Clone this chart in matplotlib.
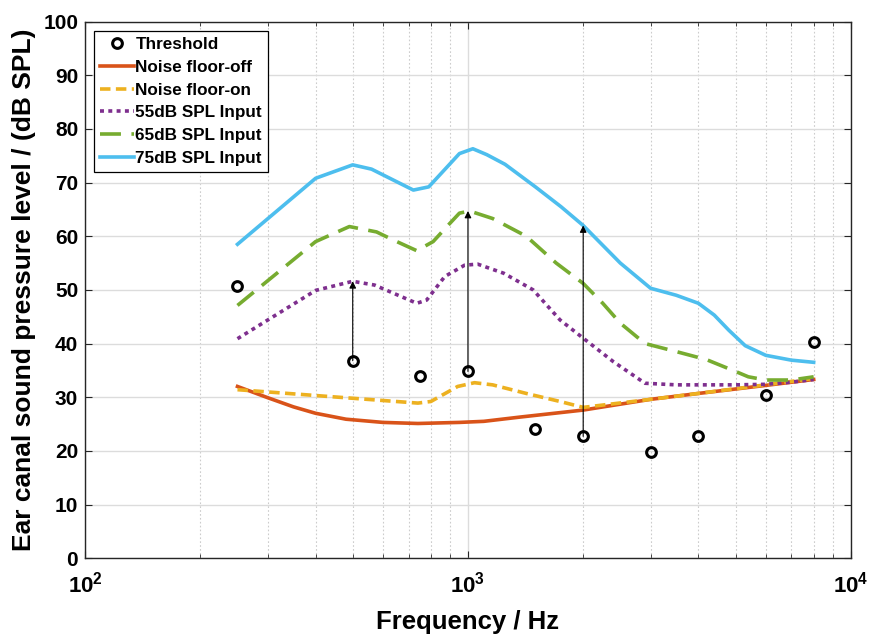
import math
import matplotlib
matplotlib.use("Agg")
import matplotlib.pyplot as plt
from matplotlib.ticker import FixedLocator, FuncFormatter, LogLocator, NullFormatter

# ---- data ----
thr_freq = [250, 500, 750, 1000, 1500, 2000, 3000, 4000, 6000, 8000]
thr_level = [50.8, 36.8, 34.0, 34.8, 24.0, 22.7, 19.8, 22.8, 30.4, 40.3]

off_freq = [250, 300, 350, 400, 480, 600, 740, 950, 1100, 1370, 2000, 3000, 4000, 6000, 8000]
off_level = [32.0, 29.9, 28.2, 27.0, 25.9, 25.3, 25.1, 25.3, 25.5, 26.3, 27.6, 29.6, 30.7, 32.2, 33.3]

on_freq = [250, 420, 570, 740, 800, 940, 1040, 1160, 1420, 1740, 2000, 3000, 4000, 6000, 8000]
on_level = [31.4, 30.2, 29.5, 28.9, 29.2, 32.0, 32.7, 32.3, 30.7, 29.2, 28.1, 29.6, 30.7, 32.3, 33.5]

in55_freq = [250, 400, 500, 570, 735, 780, 870, 980, 1060, 1240, 1480, 1740, 2000, 2400, 2900,
             3500, 4000, 5000, 6000, 7000, 8000]
in55_level = [40.9, 49.9, 51.6, 50.9, 47.5, 48.1, 52.5, 54.6, 54.8, 53.1, 50.0, 44.4, 41.0, 36.6, 32.6,
              32.3, 32.3, 32.3, 32.4, 32.8, 33.3]

in65_freq = [250, 400, 490, 577, 638, 735, 811, 897, 950, 1010, 1160, 1420, 1700, 2000, 2250, 2500,
             2900, 3500, 4200, 5000, 5400, 6000, 7000, 8000]
in65_level = [47.1, 59.0, 61.8, 60.8, 59.3, 57.3, 59.0, 62.4, 64.3, 64.7, 63.3, 60.0, 55.0, 51.2, 47.5, 43.8,
              40.0, 38.5, 37.0, 34.8, 33.8, 33.2, 33.2, 33.8]

in75_freq = [250, 400, 500, 560, 720, 790, 950, 1030, 1120, 1250, 1500, 1750, 2000, 2500, 3000,
             3500, 4000, 4400, 4800, 5300, 6000, 7000, 8000]
in75_level = [58.5, 70.8, 73.3, 72.5, 68.6, 69.2, 75.4, 76.3, 75.2, 73.4, 69.2, 65.5, 62.0, 55.0, 50.3,
              49.0, 47.5, 45.3, 42.5, 39.6, 37.8, 36.9, 36.5]

arrow_freq = [500, 1000, 2000]
arrow_base = [36.8, 34.8, 22.7]
arrow_tip = [51.6, 64.7, 62.0]

y_ticks = list(range(0, 101, 10))

# ---- style ----
plt.rcParams["font.family"] = ["Liberation Sans", "DejaVu Sans"]
plt.rcParams["font.weight"] = "bold"
plt.rcParams["mathtext.fontset"] = "custom"
plt.rcParams["mathtext.rm"] = "Liberation Sans:bold"
plt.rcParams["mathtext.bf"] = "Liberation Sans:bold"
plt.rcParams["mathtext.default"] = "bf"

fig = plt.figure(figsize=(8.69, 6.35), dpi=100)
ax = fig.add_axes([0.098, 0.121, 0.881, 0.845])

c_off = "#D95319"
c_on = "#EDB120"
c_55 = "#7E2F8E"
c_65 = "#77AC30"
c_75 = "#4DBEEE"

ax.plot(thr_freq, thr_level, linestyle="none", marker="o", markersize=7,
        markerfacecolor="none", markeredgecolor="black", markeredgewidth=2.2,
        label="Threshold", zorder=5)
ax.plot(off_freq, off_level, color=c_off, lw=2.6, label="Noise floor-off", zorder=3)
ax.plot(on_freq, on_level, color=c_on, lw=2.6, dashes=(2.9, 1.5), label="Noise floor-on", zorder=3)
ax.plot(in55_freq, in55_level, color=c_55, lw=2.6, dashes=(1.1, 1.2), label="55dB SPL Input", zorder=3)
ax.plot(in65_freq, in65_level, color=c_65, lw=2.6, dashes=(5.8, 2.9), label="65dB SPL Input", zorder=3)
ax.plot(in75_freq, in75_level, color=c_75, lw=2.6, label="75dB SPL Input", zorder=3)

for f, b, t in zip(arrow_freq, arrow_base, arrow_tip):
    ax.annotate("", xy=(f, t), xytext=(f, b),
                arrowprops=dict(arrowstyle="-|>", color="black", lw=0.8,
                                mutation_scale=10, shrinkA=0, shrinkB=0),
                zorder=4)

ax.set_xscale("log")
ax.set_xlim(100, 10000)
ax.set_ylim(0, 100)
ax.xaxis.set_major_locator(FixedLocator([100, 1000, 10000]))
ax.xaxis.set_major_formatter(FuncFormatter(lambda v, p: r"$\mathbf{10^{%d}}$" % round(math.log10(v))))
ax.xaxis.set_minor_locator(LogLocator(base=10, subs=range(2, 10)))
ax.xaxis.set_minor_formatter(NullFormatter())
ax.yaxis.set_major_locator(FixedLocator(y_ticks))

ax.grid(True, which="major", color="#dcdcdc", lw=1.0, linestyle="-")
ax.grid(True, which="minor", axis="x", color="#cccccc", lw=0.8, linestyle=(0, (1.5, 2)))
ax.set_axisbelow(True)

ax.tick_params(which="both", direction="in", top=True, right=True, color="#262626")
ax.tick_params(which="major", length=5, width=0.8, labelsize=15)
ax.tick_params(axis="y", which="major", pad=5)
ax.tick_params(axis="x", which="major", pad=10, labelsize=16)
ax.tick_params(which="minor", length=3, width=0.6)
for lbl in ax.get_xticklabels() + ax.get_yticklabels():
    lbl.set_fontweight("bold")
for sp in ax.spines.values():
    sp.set_color("#262626")
    sp.set_linewidth(1.0)

ax.set_xlabel("Frequency / Hz", fontsize=18.5, fontweight="bold", labelpad=9)
ax.set_ylabel("Ear canal sound pressure level / (dB SPL)", fontsize=19, fontweight="bold", labelpad=5)

leg = ax.legend(loc="upper left", bbox_to_anchor=(0.011, 0.982), borderaxespad=0,
                prop=dict(size=12.3, weight="bold"), frameon=True, fancybox=False,
                edgecolor="black", framealpha=1, handlelength=2.0, handletextpad=0.1,
                labelspacing=0.45, borderpad=0.35)
leg.get_frame().set_linewidth(0.9)

fig.savefig("out.png", dpi=100)
